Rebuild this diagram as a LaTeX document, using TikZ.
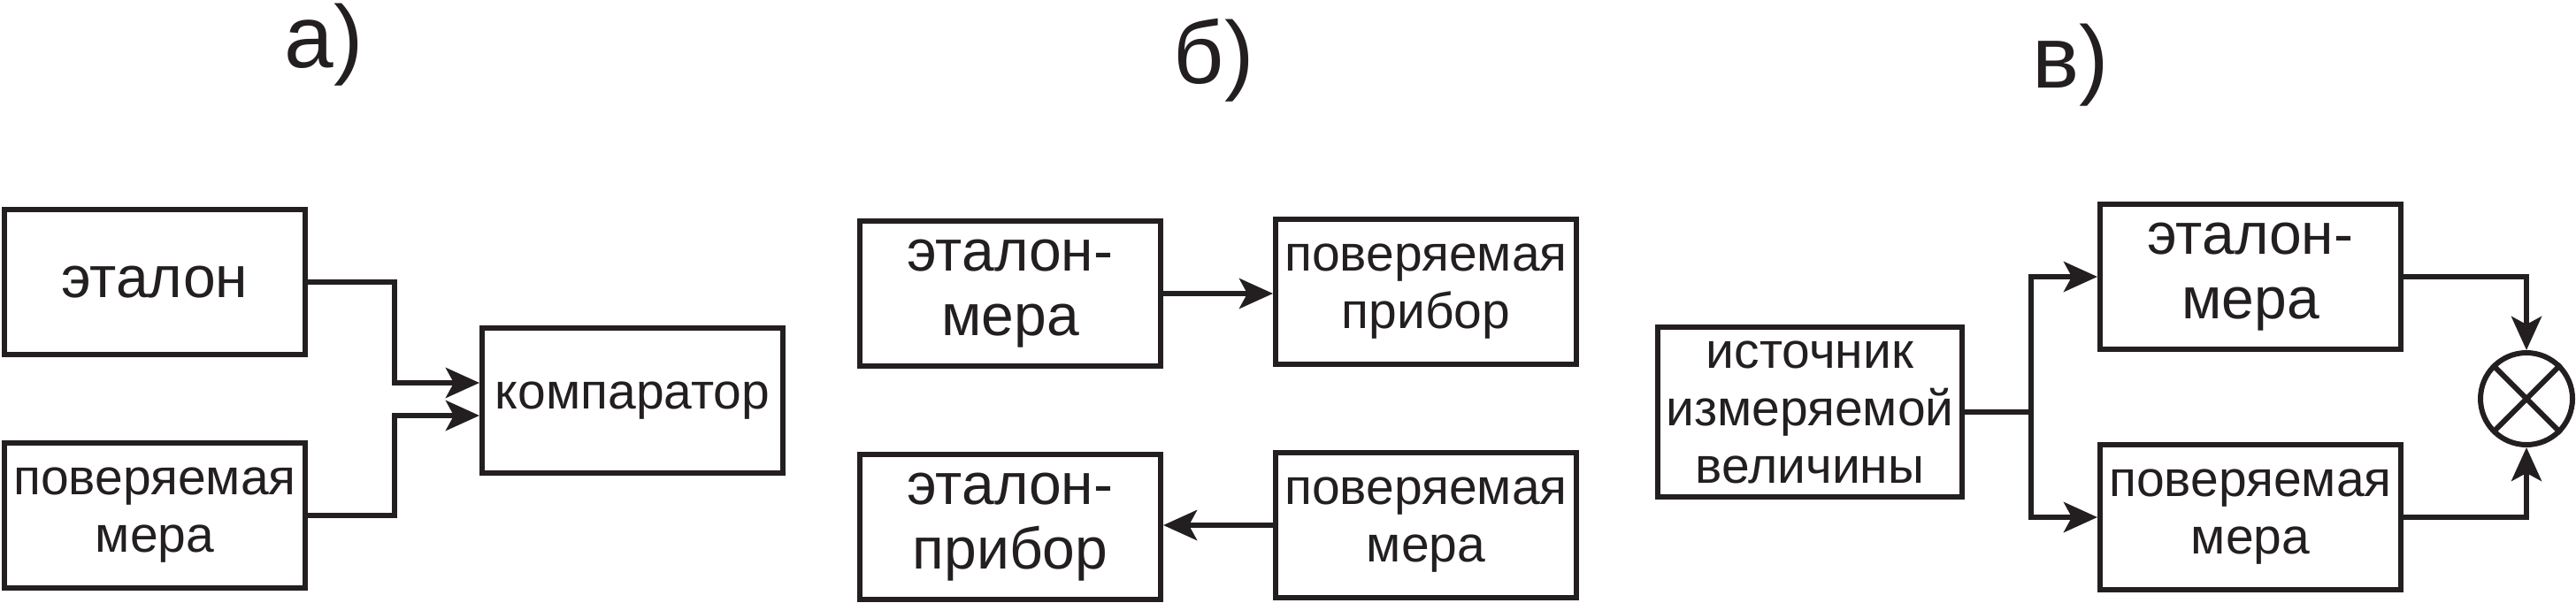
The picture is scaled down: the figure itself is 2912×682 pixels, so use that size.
\documentclass[tikz,border=0pt]{standalone}
\usepackage{fontspec}
\setmainfont{Liberation Sans}
\usetikzlibrary{arrows.meta,calc}
\definecolor{ink}{RGB}{35,31,32}
\begin{document}
\begin{tikzpicture}[x=1pt,y=-1pt,
  box/.style={draw=ink,line width=6pt,inner sep=0pt,align=center,text=ink,
    minimum width=340pt,minimum height=164pt},
  big/.style={font=\fontsize{66}{73}\selectfont},
  small/.style={font=\fontsize{57}{65}\selectfont},
  lbl/.style={font=\fontsize{100}{100}\selectfont,text=ink,inner sep=0pt,anchor=base},
  arr/.style={draw=ink,line width=6pt,-{Stealth[length=38pt,width=34pt,inset=9pt]}},
  ln/.style={draw=ink,line width=6pt}]
\useasboundingbox (0,0) rectangle (2912,682);
% labels
\node[lbl] (la) at (366,77) {а)};
\node[lbl] (lb) at (1372,95) {б)};
\node[lbl] (lc) at (2341,100) {в)};
% panel a
\node[box,big] (etA) at (175,319) {эталон};
\node[box,small] (merA) at (175,583) {поверяемая\\мера};
\node[box,small] (kmp) at (715,453) {компаратор};
\draw[arr] (etA.east) -| ([xshift=-96pt,yshift=20pt]kmp.west) -- ([yshift=20pt]kmp.west);
\draw[arr] (merA.east) -| ([xshift=-96pt,yshift=-17pt]kmp.west) -- ([yshift=-17pt]kmp.west);
% panel b
\node[box,big] (etM) at (1142,332) {эталон-\\мера};
\node[box,small] (povP) at (1612,330) {поверяемая\\прибор};
\node[box,big] (etP) at (1142,596) {эталон-\\прибор};
\node[box,small] (povM) at (1612,594) {поверяемая\\мера};
\draw[arr] (etM.east) -- (etM.east -| povP.west);
\draw[arr] (povM.west) -- (povM.west -| etP.east);
% panel c
\node[box,small,minimum width=344pt,minimum height=192pt] (src) at (2046,466) {источник\\измеряемой\\величины};
\node[box,big] (etV) at (2544,313) {эталон-\\мера};
\node[box,small] (povV) at (2544,585) {поверяемая\\мера};
\node[draw=ink,line width=6pt,circle,minimum size=104pt,inner sep=0pt] (sum) at (2856,451) {};
\draw[ln] (sum.north west) -- (sum.south east);
\draw[ln] (sum.north east) -- (sum.south west);
\draw[arr] (src.east) -- ++(75,0) |- (etV.west);
\draw[arr] (src.east) -- ++(75,0) |- (povV.west);
\draw[arr] (etV.east) -| (sum.north);
\draw[arr] (povV.east) -| (sum.south);
\end{tikzpicture}
\end{document}
